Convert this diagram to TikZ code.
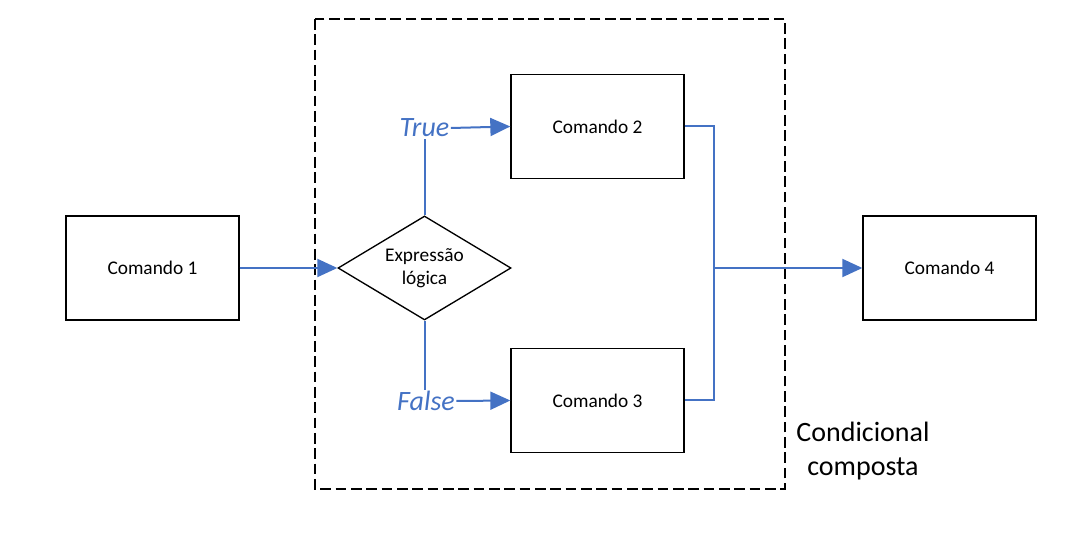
\documentclass[tikz,border=0pt]{standalone}
\usepackage{fontspec}
\setmainfont{Carlito}
\usetikzlibrary{shapes.geometric,arrows.meta}
\definecolor{flowblue}{HTML}{4472C4}
\begin{document}
\begin{tikzpicture}[x=0.75pt,y=-0.75pt,
  cmdbox/.style={draw=black,line width=1pt,minimum width=129.75pt,minimum height=78pt,inner sep=0pt,font=\fontsize{14.5}{17}\selectfont},
  decbox/.style={draw=black,line width=1pt,shape=diamond,aspect=1.66,minimum width=129.75pt,minimum height=78pt,inner sep=0pt,align=center,font=\fontsize{14.5}{17.3}\selectfont},
  flow/.style={draw=flowblue,line width=1.5pt},
  flowarrow/.style={flow,-{Triangle[length=15pt,width=13.5pt]}},
  branchlbl/.style={text=flowblue,font=\fontsize{21}{24}\selectfont\itshape,inner sep=1pt},
  grouplbl/.style={align=center,font=\fontsize{21}{26}\selectfont}
]
\useasboundingbox (0,0) rectangle (1090,552);
\draw[line width=1.4pt,dash pattern=on 8pt off 3.5pt] (315,19) rectangle (785,489);
\node[cmdbox] (c1) at (152.5,268) {Comando 1};
\node[decbox] (d) at (424.5,268) {Expressão\\lógica};
\node[cmdbox] (c2) at (597.5,126.5) {Comando 2};
\node[cmdbox] (c3) at (597.5,400.5) {Comando 3};
\node[cmdbox] (c4) at (949.5,268) {Comando 4};
\node[branchlbl] (tt) at (424.5,128) {True};
\node[branchlbl] (ff) at (426,401) {False};
\node[grouplbl] (g) at (863,451) {Condicional\\composta};
\coordinate (m) at (714,268);
\draw[flowarrow] (c1.east) -- (d.west);
\draw[flow] (d.north) -- (d.north |- tt.south);
\draw[flow] (d.south) -- (d.south |- ff.north);
\draw[flowarrow] (tt.east) -- (c2.west);
\draw[flowarrow] (ff.east) -- (c3.west);
\draw[flow] (c2.east) -| (m) |- (c3.east);
\draw[flowarrow] (m) -- (c4.west);
\end{tikzpicture}
\end{document}
